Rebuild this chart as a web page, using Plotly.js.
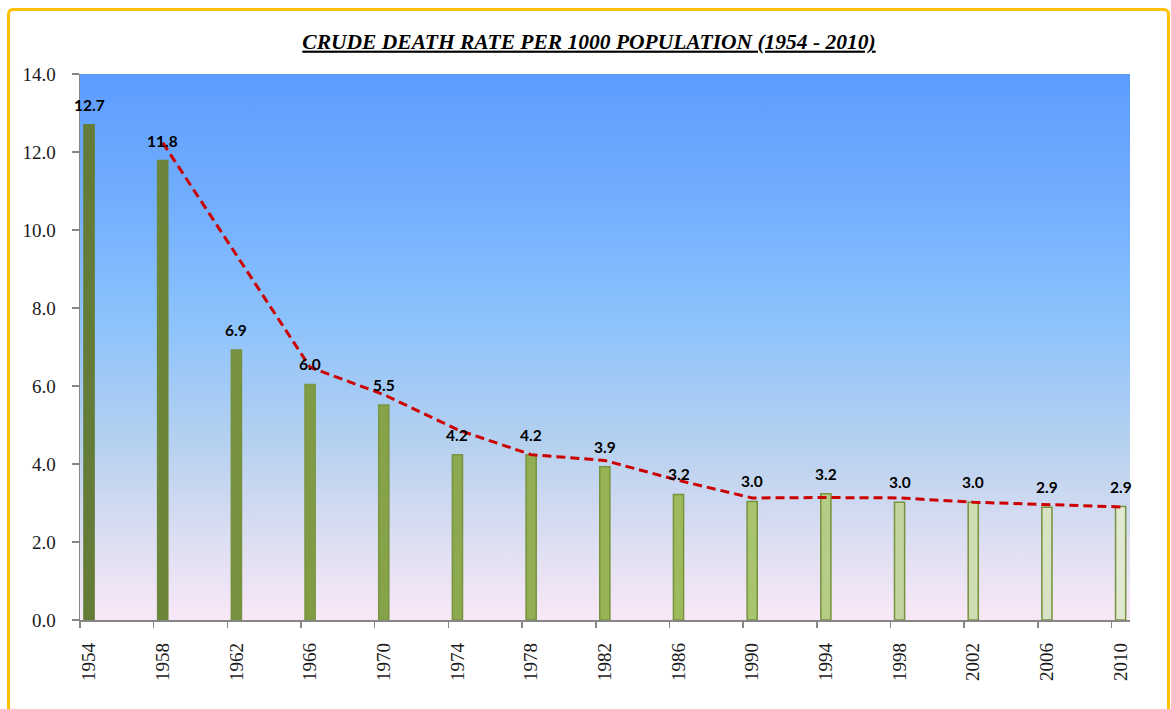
<!DOCTYPE html>
<html>
<head>
<meta charset="utf-8">
<script src="https://cdn.plot.ly/plotly-3.0.1.min.js"></script>
<style>
  html, body { margin: 0; padding: 0; background: #ffffff; }
  #wrap { position: relative; width: 1171px; height: 709px; overflow: hidden; background: #ffffff; }
  #bg { position: absolute; left: 80px; top: 74px; width: 1050px; height: 546px;
        background: linear-gradient(to bottom, #5c9cff 0%, #74b0fe 25%, #8cc2fc 45%, #b6d1ef 68%, #dcdef2 85%, #f9e8f7 100%); }
  #chart { position: absolute; left: 0; top: 0; width: 1171px; height: 709px; }
  #frame { position: absolute; left: 7px; top: 8px; width: 1157px; height: 720px;
           border: 3px solid #ffc000; border-radius: 6px; pointer-events: none; }
</style>
</head>
<body>
<div id="wrap">
  <div id="bg"></div>
  <div id="chart"></div>
  <div id="frame"></div>
</div>
<script>
// ---- data ----
const years = [1954, 1958, 1962, 1966, 1970, 1974, 1978, 1982, 1986, 1990, 1994, 1998, 2002, 2006, 2010];
const deathRate = [12.7, 11.78, 6.92, 6.04, 5.51, 4.24, 4.24, 3.93, 3.22, 3.04, 3.24, 3.02, 3.02, 2.89, 2.91];
const movingAvg = [null, 12.24, 9.35, 6.48, 5.78, 4.88, 4.24, 4.09, 3.58, 3.13, 3.14, 3.13, 3.02, 2.96, 2.90];
const barColors = ['#647c37', '#6b863b', '#77923f', '#7f9c45', '#86a349', '#8ca94f', '#91ae53', '#97b455',
                   '#9dba5d', '#a9c46f', '#b5cc86', '#c3d49e', '#cfdcb3', '#d8e2c4', '#e1e9d3'];
const barLines = ['#647c37', '#6b863b', '#77923f', '#7a9642', '#7a9642', '#78943e', '#76923c', '#76923c',
                  '#76923c', '#76923c', '#76923c', '#76923c', '#76923c', '#76923c', '#76923c'];
const yTicks = [0, 2, 4, 6, 8, 10, 12, 14];
const chartTitle = 'CRUDE DEATH RATE PER 1000 POPULATION (1954 - 2010)';

const bars = {
  type: 'bar', x: years, y: deathRate, width: 0.55,
  marker: { color: barColors, line: { color: barLines, width: 1.5 } },
  hoverinfo: 'x+y', showlegend: false
};
const trend = {
  type: 'scatter', mode: 'lines', x: years, y: movingAvg,
  line: { color: '#cc0000', width: 3, dash: '9px,5px' },
  connectgaps: false, hoverinfo: 'skip', showlegend: false
};

const annotations = years.map((yr, i) => ({
  x: yr, y: deathRate[i], xref: 'x', yref: 'y',
  text: deathRate[i].toFixed(1), showarrow: false,
  yanchor: 'bottom', yshift: 9,
  font: { family: 'Lato, "Open Sans", sans-serif', size: 15.5, color: '#000000', weight: 'bold' }
}));

const layout = {
  width: 1171, height: 709,
  margin: { l: 80, r: 41, t: 74, b: 89, pad: 0 },
  paper_bgcolor: 'rgba(0,0,0,0)', plot_bgcolor: 'rgba(0,0,0,0)',
  title: {
    text: chartTitle, x: 0.503, xanchor: 'center', y: 0.942, yanchor: 'middle', yref: 'container',
    font: { family: '"Liberation Serif", serif', size: 21.5, color: '#000000', weight: 'bold', style: 'italic', lineposition: 'under' }
  },
  xaxis: {
    type: 'linear', range: [1953.51, 2010.51],
    tickmode: 'array', tickvals: years.map(y => y - 0.49), ticktext: years.map(String),
    ticks: 'outside', ticklen: 6, tickwidth: 1.5, tickcolor: '#868686',
    tickangle: -90, ticklabelshift: 9, ticklabelstandoff: 8,
    showline: true, linecolor: '#868686', linewidth: 1.5,
    showgrid: false, zeroline: false, fixedrange: true,
    tickfont: { family: '"Liberation Serif", serif', size: 19, color: '#1a1a1a' }
  },
  yaxis: {
    range: [0, 14], tickmode: 'array', tickvals: yTicks, ticktext: yTicks.map(v => v.toFixed(1)),
    ticks: 'outside', ticklen: 7, tickwidth: 1.5, tickcolor: '#868686', ticklabelstandoff: 12,
    showline: true, linecolor: '#868686', linewidth: 1.5,
    showgrid: false, zeroline: false, fixedrange: true,
    tickfont: { family: '"Liberation Serif", serif', size: 19, color: '#1a1a1a' }
  },
  annotations: annotations,
  bargap: 0.5
};

Plotly.newPlot('chart', [bars, trend], layout, { displayModeBar: false, staticPlot: true });
</script>
</body>
</html>
